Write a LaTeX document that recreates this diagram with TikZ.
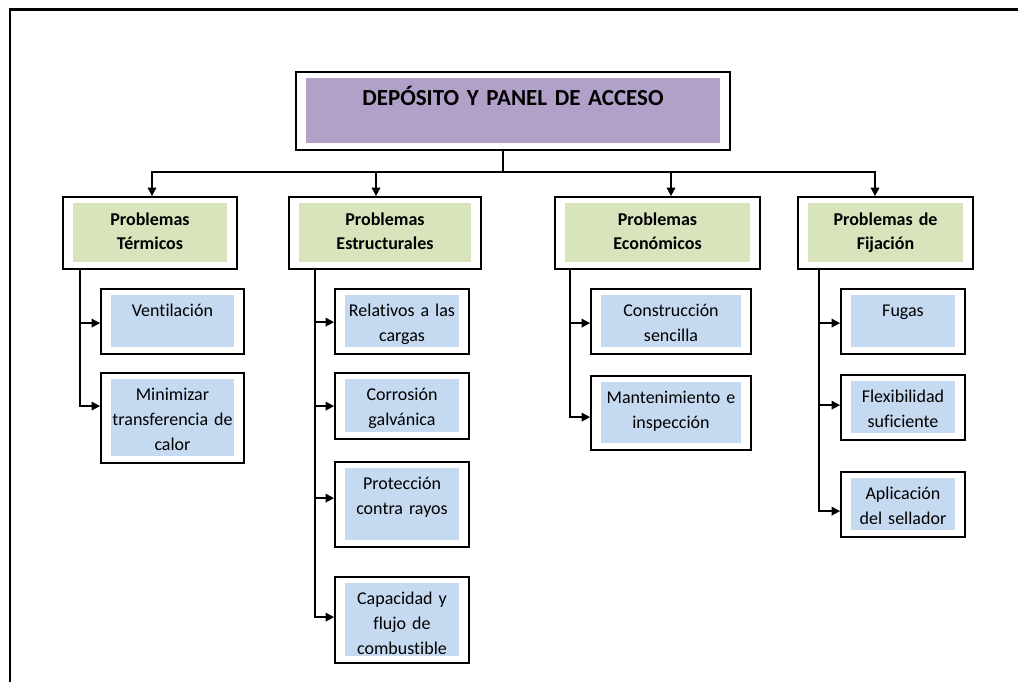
\documentclass[tikz,border=0pt]{standalone}
\usepackage{fontspec}
\setmainfont{Carlito}[Ligatures=NoCommon]
\usetikzlibrary{arrows.meta}

\definecolor{headpurple}{RGB}{177,160,199}
\definecolor{groupgreen}{RGB}{216,228,188}
\definecolor{leafblue}{RGB}{197,217,241}

\tikzset{
  inset/.style={path picture={\fill[#1]
      ([shift={(9.5pt,7pt)}]path picture bounding box.south west) rectangle
      ([shift={(-10.5pt,-6pt)}]path picture bounding box.north east);}},
  framebox/.style 2 args={draw=black, line width=1.8pt, fill=white, rectangle,
    inner sep=0pt, align=center, minimum width=#1pt, text width=#1pt, text depth=#2pt},
  headbox/.style 2 args={framebox={#1}{#2}, inset=headpurple, text height=33pt,
    font=\fontsize{23}{28}\selectfont\bfseries},
  groupbox/.style 2 args={framebox={#1}{#2}, inset=groupgreen, text height=28pt,
    font=\fontsize{18}{24}\selectfont\bfseries},
  leafbox/.style 2 args={framebox={#1}{#2}, inset=leafblue, text height=27pt,
    font=\fontsize{18}{25}\selectfont},
  wire/.style={line width=1.8pt},
  link/.style={line width=1.8pt, -{Triangle[width=8.5pt,length=8.5pt]}}
}

\begin{document}
\begin{tikzpicture}[x=1pt,y=-1pt]
  \useasboundingbox (0,0) rectangle (1018,681);
  \begin{scope}
    \clip (0,0) rectangle (1018,681);
    \draw[line width=2.5pt] (10,690) |- (1030,9.5);
  \end{scope}

  % top
  \node[headbox={434}{45}] (main) at (513,111) {DEPÓSITO Y PANEL DE ACCESO};

  % groups
  \node[groupbox={174}{44}] (ter) at (150,233) {Problemas\\Térmicos};
  \node[groupbox={192}{44}] (est) at (385,233) {Problemas\\Estructurales};
  \node[groupbox={205}{44}] (eco) at (657.5,233) {Problemas\\Económicos};
  \node[groupbox={175}{44}] (fij) at (885.5,233) {Problemas de\\Fijación};

  % leaves
  \node[leafbox={143}{38}] (ven) at (172.5,321.5) {Ventilación};
  \node[leafbox={143}{63}] (min) at (172.5,418) {Minimizar\\transferencia de\\calor};
  \node[leafbox={134}{38}] (rel) at (402,321.5) {Relativos a las\\cargas};
  \node[leafbox={134}{39}] (cor) at (402,406) {Corrosión\\galvánica};
  \node[leafbox={134}{58}] (pro) at (402,504.5) {Protección\\contra rayos};
  \node[leafbox={134}{59}] (cap) at (402,620) {Capacidad y\\flujo de\\combustible};
  \node[leafbox={160}{38}] (con) at (671,321.5) {Construcción\\sencilla};
  \node[leafbox={160}{47}] (man) at (671,413) {Mantenimiento e\\inspección};
  \node[leafbox={124}{38}] (fug) at (903,321.5) {Fugas};
  \node[leafbox={124}{38}] (fle) at (903,407.5) {Flexibilidad\\suficiente};
  \node[leafbox={124}{38}] (apl) at (903,504.5) {Aplicación\\del sellador};

  % bus
  \coordinate (bus) at (503,172);
  \draw[wire] (main.south -| bus) -- (bus);
  \draw[link] (bus) -| ([xshift=2pt]ter.north);
  \draw[link] (bus) -| ([xshift=-9pt]est.north);
  \draw[link] (bus) -| ([xshift=13.5pt]eco.north);
  \draw[link] (bus) -| ([xshift=-10.5pt]fij.north);

  % group to leaves
  \draw[link] ([xshift=18pt]ter.south west) |- ([yshift=-35pt]ven.north west);
  \draw[link] ([xshift=18pt]ter.south west) |- ([yshift=-34pt]min.north west);
  \draw[link] ([xshift=27pt]est.south west) |- ([yshift=-34pt]rel.north west);
  \draw[link] ([xshift=27pt]est.south west) |- ([yshift=-34pt]cor.north west);
  \draw[link] ([xshift=27pt]est.south west) |- ([yshift=-37pt]pro.north west);
  \draw[link] ([xshift=27pt]est.south west) |- ([yshift=-41pt]cap.north west);
  \draw[link] ([xshift=16pt]eco.south west) |- ([yshift=-35pt]con.north west);
  \draw[link] ([xshift=16pt]eco.south west) |- ([yshift=-42pt]man.north west);
  \draw[link] ([xshift=22pt]fij.south west) |- ([yshift=-35pt]fug.north west);
  \draw[link] ([xshift=22pt]fij.south west) |- ([yshift=-31pt]fle.north west);
  \draw[link] ([xshift=22pt]fij.south west) |- ([yshift=-40pt]apl.north west);
\end{tikzpicture}
\end{document}
